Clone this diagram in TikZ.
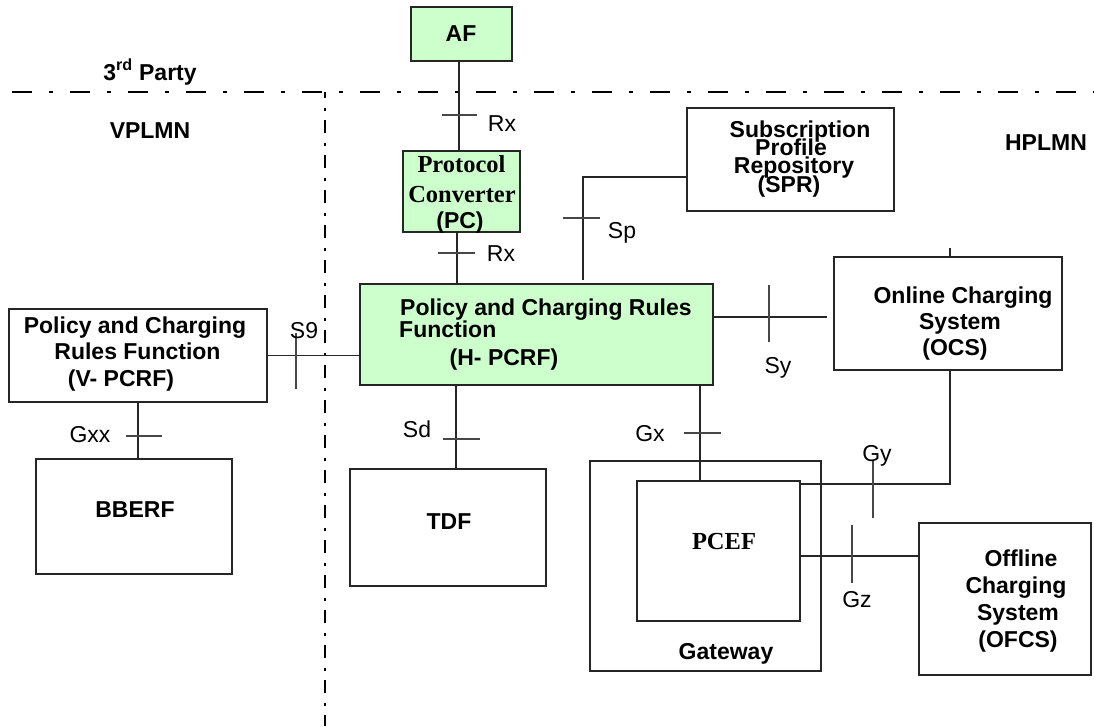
\documentclass[tikz,border=0pt]{standalone}
\usepackage{fontspec}
\setmainfont{Liberation Sans}
\newfontfamily\timesfam{Liberation Serif}
\definecolor{pcrfgreen}{HTML}{CCFFCC}
\definecolor{inkline}{HTML}{262626}
\begin{document}
\begin{tikzpicture}[x=1pt,y=-1pt,
  box/.style={draw=inkline, line width=1.3pt, inner sep=0pt, rectangle, fill=white},
  greenbox/.style={box, fill=pcrfgreen},
  wire/.style={draw=inkline, line width=1.3pt},
  tickmark/.style={draw=inkline!85, line width=1.1pt},
  txt/.style={inner sep=0pt, anchor=base, font=\fontsize{23}{26}\selectfont},
  btxt/.style={txt, font=\fontsize{23}{26}\selectfont\bfseries},
  stxt/.style={txt, font=\fontsize{24.5}{27}\selectfont\timesfam\bfseries},
  border/.style={draw=black, line width=1.2pt}
]
\useasboundingbox (0,0) rectangle (1094,726);
\fill[white] (0,0) rectangle (1094,726);

% domain borders
\draw[border, dash pattern=on 20pt off 17pt on 4pt off 17pt] (12,92) -- (1094,92);
\draw[border, line width=1.1pt, dash pattern=on 13pt off 9.5pt on 3pt off 9.5pt, dash phase=7pt] (325,92) -- (325,726);

% boxes
\node[greenbox, minimum width=101pt, minimum height=54pt]  (af)     at (461.5,34)  {};
\node[greenbox, minimum width=117pt, minimum height=81pt]  (pc)     at (461.5,191.5) {};
\node[box,      minimum width=207pt, minimum height=103pt] (spr)    at (790.5,159.5) {};
\node[greenbox, minimum width=353pt, minimum height=101pt] (hpcrf)  at (536.5,334.5) {};
\node[box,      minimum width=228pt, minimum height=113pt] (ocs)    at (948,313.5) {};
\node[box,      minimum width=258pt, minimum height=93pt]  (vpcrf)  at (138,355.5) {};
\node[box,      minimum width=196pt, minimum height=115pt] (bberf)  at (134,516.5) {};
\node[box,      minimum width=196pt, minimum height=117pt] (tdf)    at (448,527.5) {};
\node[box,      minimum width=231pt, minimum height=210pt] (gw)     at (705.5,566) {};
\node[box,      minimum width=163pt, minimum height=140pt] (pcef)   at (718.5,551) {};
\node[box,      minimum width=172pt, minimum height=152pt] (ofcs)   at (1005,599) {};

% reference points
\coordinate (spbend) at ([xshift=46.5pt]hpcrf.north |- 0,177);

% connectors
\draw[wire] ([xshift=-2.5pt]af.south) -- ([xshift=-2.5pt]pc.north);
\draw[wire] ([xshift=-4.5pt]pc.south) -- ([xshift=-4.5pt]pc.south |- hpcrf.north);
\draw[wire] ([xshift=46.5pt,yshift=3pt]hpcrf.north) -- (spbend) -- (spbend -| spr.west);
\draw[wire] (vpcrf.east) -- (vpcrf.east -| hpcrf.west);
\draw[wire] (vpcrf.south) -- (vpcrf.south |- bberf.north);
\draw[wire] ([xshift=8pt]tdf.north) -- ([xshift=8pt]tdf.north |- hpcrf.south);
\draw[wire] ([xshift=-18.5pt]pcef.north) -- ([xshift=-18.5pt]pcef.north |- hpcrf.south);
\draw[wire, shorten >=6pt] ([yshift=17.5pt]hpcrf.east) -- ([yshift=17.5pt]hpcrf.east -| ocs.west);
\draw[wire] ([yshift=67pt]pcef.east) -| ([xshift=2pt]ocs.south);
\draw[wire] ([xshift=2pt]ocs.north) -- ++(0,-8);
\draw[wire] ([yshift=-5pt]pcef.east) -- ([yshift=-5pt]pcef.east -| ofcs.west);

% interface ticks
\draw[tickmark] (442,115) -- (477,115);
\draw[tickmark] (438,253) -- (475,253);
\draw[tickmark] (563,218) -- (600,218);
\draw[tickmark] (296,333) -- (296,389);
\draw[tickmark] (126,436) -- (162,436);
\draw[tickmark] (443,439) -- (480,439);
\draw[tickmark] (684,433) -- (721,433);
\draw[tickmark] (769,285) -- (769,342);
\draw[tickmark] (873,461) -- (873,518);
\draw[tickmark] (852,525) -- (852,583);

% domain labels
\node[btxt] (party) at (150,80) {3\textsuperscript{rd} Party};
\node[btxt] (vplmn) at (150,138) {VPLMN};
\node[btxt] (hplmn) at (1046,150) {HPLMN};

% box texts
\node[btxt] (aftxt) at (461,41) {AF};
\node[stxt] (pct1) at (461.5,172) {Protocol};
\node[stxt] (pct2) at (462,202) {Converter};
\node[btxt] (pct3) at (460,228) {(PC)};

\node[btxt] (sprt1) at (800,137) {Subscription};
\node[btxt] (sprt2) at (791,155) {Profile};
\node[btxt] (sprt3) at (794,173) {Repository};
\node[btxt] (sprt4) at (789,192) {(SPR)};

\node[btxt, anchor=base west] (hpt1) at (400,315) {Policy and Charging Rules};
\node[btxt, anchor=base west] (hpt2) at (399,337) {Function};
\node[btxt] (hpt3) at (504,365) {(H- PCRF)};

\node[btxt] (vpt1) at (135,333) {Policy and Charging};
\node[btxt] (vpt2) at (137.5,359) {Rules Function};
\node[btxt] (vpt3) at (121,386) {(V- PCRF)};

\node[btxt] (ocst1) at (963,303) {Online Charging};
\node[btxt] (ocst2) at (960,329) {System};
\node[btxt] (ocst3) at (955,355) {(OCS)};

\node[btxt] (bbtxt) at (135,517) {BBERF};
\node[btxt] (tdftxt) at (449,529) {TDF};
\node[stxt] (pceftxt) at (724,549) {PCEF};
\node[btxt] (gwtxt) at (726,659) {Gateway};

\node[btxt] (oft1) at (1021,566) {Offline};
\node[btxt] (oft2) at (1016,593) {Charging};
\node[btxt] (oft3) at (1018,620) {System};
\node[btxt] (oft4) at (1018,647) {(OFCS)};

% interface labels
\node[txt] (rx1) at (502,131) {Rx};
\node[txt] (rx2) at (501,261) {Rx};
\node[txt] (sp)  at (622,238) {Sp};
\node[txt] (s9)  at (304,338) {S9};
\node[txt] (gxx) at (90,442) {Gxx};
\node[txt] (sd)  at (417,437) {Sd};
\node[txt] (gx)  at (650,441) {Gx};
\node[txt] (sy)  at (778,373) {Sy};
\node[txt] (gy)  at (877,461) {Gy};
\node[txt] (gz)  at (857,607) {Gz};
\end{tikzpicture}
\end{document}
